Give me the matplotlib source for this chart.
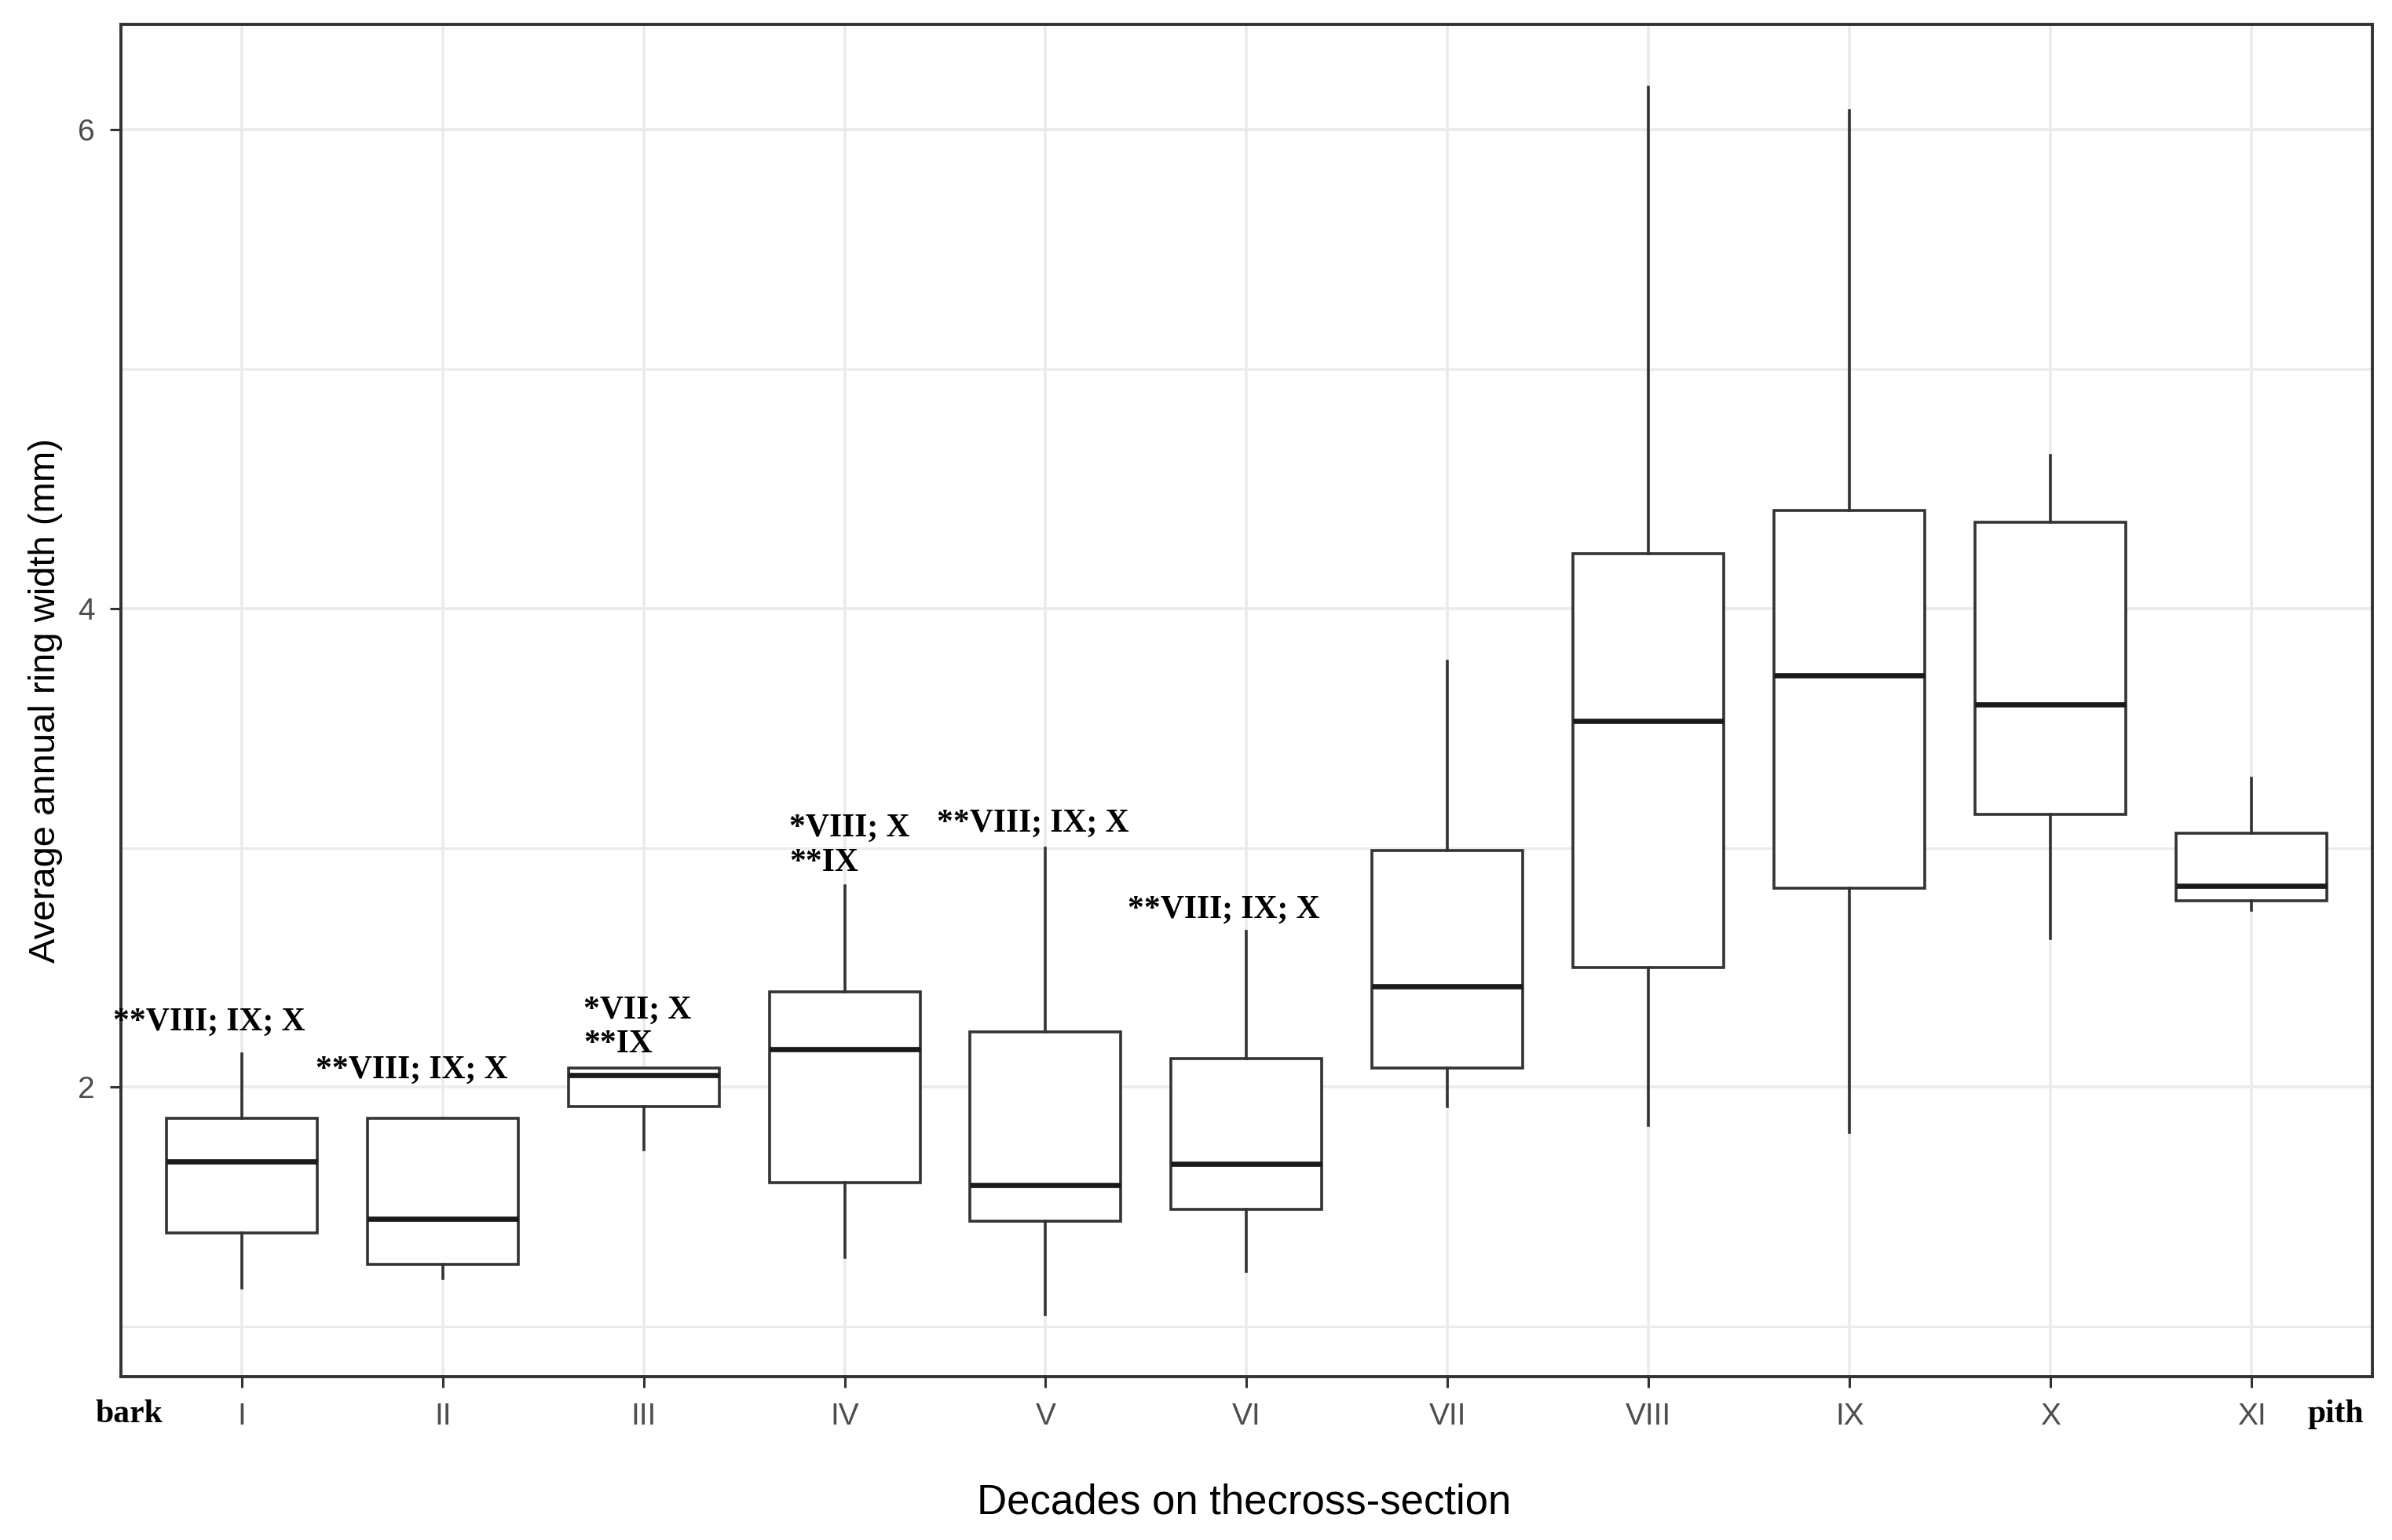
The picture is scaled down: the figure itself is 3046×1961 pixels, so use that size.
import matplotlib
matplotlib.use('Agg')
import matplotlib.pyplot as plt
import matplotlib.transforms as mtransforms
from matplotlib.ticker import FixedLocator

# ---- data ----
decades = ['I', 'II', 'III', 'IV', 'V', 'VI', 'VII', 'VIII', 'IX', 'X', 'XI']
whisker_low = [1.16, 1.20, 1.74, 1.29, 1.05, 1.23, 1.92, 1.84, 1.81, 2.62, 2.74]
q1 = [1.39, 1.26, 1.92, 1.60, 1.44, 1.49, 2.08, 2.50, 2.83, 3.14, 2.78]
median = [1.69, 1.45, 2.05, 2.16, 1.59, 1.68, 2.42, 3.53, 3.72, 3.60, 2.84]
q3 = [1.87, 1.87, 2.08, 2.40, 2.23, 2.12, 2.99, 4.23, 4.41, 4.36, 3.06]
whisker_high = [2.14, 1.87, 2.08, 2.84, 3.00, 2.65, 3.78, 6.18, 6.08, 4.64, 3.29]

annot_text = ['**VIII; IX; X', '**VIII; IX; X', '*VII; X\n**IX',
              '*VIII; X\n**IX', '**VIII; IX; X', '**VIII; IX; X']
annot_x = [0.36, 1.37, 2.70, 3.725, 4.46, 5.41]
annot_y = [2.27, 2.07, 2.25, 3.01, 3.10, 2.74]

y_major = [2, 4, 6]
y_minor = [1, 3, 5]

x_title = 'Decades on thecross-section'
y_title = 'Average annual ring width (mm)'

# ---- figure ----
fig = plt.figure(figsize=(30.46, 19.61), dpi=100)
ax = fig.add_axes([0.0506, 0.106, 0.9411, 0.878])

dark = '#333333'
stats = []
for i, lab in enumerate(decades):
    stats.append(dict(label=lab, whislo=whisker_low[i], q1=q1[i], med=median[i],
                      q3=q3[i], whishi=whisker_high[i], fliers=[]))

positions = list(range(1, len(decades) + 1))
ax.bxp(stats, positions=positions, widths=0.75, patch_artist=True,
       showcaps=False, showfliers=False,
       boxprops=dict(facecolor='white', edgecolor=dark, linewidth=2.6),
       medianprops=dict(color='#1a1a1a', linewidth=4.8, solid_capstyle='butt'),
       whiskerprops=dict(color=dark, linewidth=2.6),
       zorder=3)

ax.set_xlim(0.4, 11.6)
ax.set_ylim(0.79, 6.44)

ax.yaxis.set_major_locator(FixedLocator(y_major))
ax.yaxis.set_minor_locator(FixedLocator(y_minor))
ax.set_xticks(positions)
ax.set_xticklabels(decades)

ax.set_axisbelow(True)
ax.grid(which='major', color='#EBEBEB', linewidth=2.6)
ax.grid(which='minor', axis='y', color='#EBEBEB', linewidth=2.2)

for s in ax.spines.values():
    s.set_color(dark)
    s.set_linewidth(2.8)

ax.tick_params(axis='both', which='major', length=10, width=2.2, color=dark,
               labelcolor='#4D4D4D', labelsize=28, pad=14)
ax.tick_params(axis='y', which='minor', length=0)
for lbl in ax.get_xticklabels() + ax.get_yticklabels():
    lbl.set_fontfamily(['Liberation Sans', 'DejaVu Sans'])

# annotations
for t, x, y in zip(annot_text, annot_x, annot_y):
    ax.text(x, y, t, ha='left', va='center', fontsize=30, fontweight='bold',
            family=['Liberation Serif', 'DejaVu Serif'], color='black',
            linespacing=1.2, zorder=5, clip_on=False)

# bark / pith labels below the axis
trans = mtransforms.blended_transform_factory(ax.transData, ax.transAxes)
ax.text(0.44, -0.028, 'bark', transform=trans, ha='center', va='center',
        fontsize=30, fontweight='bold', family=['Liberation Serif', 'DejaVu Serif'])
ax.text(11.42, -0.028, 'pith', transform=trans, ha='center', va='center',
        fontsize=30, fontweight='bold', family=['Liberation Serif', 'DejaVu Serif'])

fig.text(0.52, 0.024, x_title, ha='center', va='center', fontsize=38,
         family=['Liberation Sans', 'DejaVu Sans'], color='black')
fig.text(0.019, 0.545, y_title, ha='center', va='center', rotation=90,
         fontsize=34, family=['Liberation Sans', 'DejaVu Sans'], color='black')

fig.savefig('out.png', dpi=100, facecolor='white')
